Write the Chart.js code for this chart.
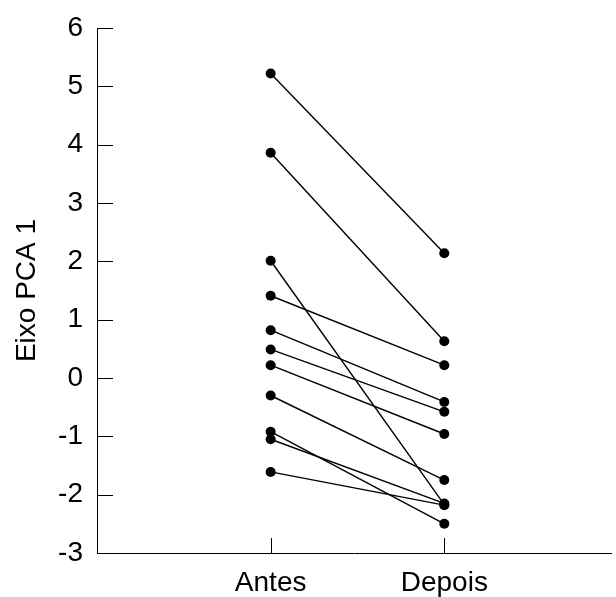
<!DOCTYPE html>
<html>
<head>
<meta charset="utf-8">
<script src="https://cdn.jsdelivr.net/npm/chart.js@4.4.1/dist/chart.umd.min.js"></script>
<style>
  html, body { margin: 0; padding: 0; background: #fff; overflow: hidden; }
  canvas { display: block; }
</style>
</head>
<body>
<canvas id="pca-chart" width="616" height="597"></canvas>
<script>
// valores (Eixo PCA 1)
const categorias = ['Antes', 'Depois'];
const antes  = [5.22, 3.86, 2.01, 1.41, 0.82, 0.49, 0.22, -0.30, -0.92, -1.05, -1.61];
const depois = [2.14, 0.63, -2.17, 0.22, -0.41, -0.58, -0.96, -1.75, -2.50, -2.15, -2.18];
const yTicks = [-3, -2, -1, 0, 1, 2, 3, 4, 5, 6];

const datasets = antes.map((a, i) => ({
    data: [{ x: 1, y: a }, { x: 2, y: depois[i] }],
    borderColor: '#000',
    backgroundColor: '#000',
    borderWidth: 1.4,
    pointRadius: 5,
    pointHoverRadius: 5,
    pointBorderWidth: 0
}));

// marcas de escala para dentro da área
const inwardTicks = {
    id: 'inwardTicks',
    afterDraw(chart) {
        const { ctx, chartArea, scales } = chart;
        ctx.save();
        ctx.strokeStyle = '#000';
        ctx.lineWidth = 1;
        ctx.beginPath();
        scales.y.ticks.forEach(t => {
            const py = Math.round(scales.y.getPixelForValue(t.value)) + 0.5;
            ctx.moveTo(chartArea.left, py);
            ctx.lineTo(chartArea.left + 16, py);
        });
        scales.x.ticks.forEach(t => {
            const px = Math.round(scales.x.getPixelForValue(t.value)) + 0.5;
            ctx.moveTo(px, chartArea.bottom);
            ctx.lineTo(px, chartArea.bottom - 15);
        });
        ctx.stroke();
        ctx.restore();
    }
};

const fonte = { family: 'Liberation Sans, Arial', size: 28 };

const ctx = document.getElementById('pca-chart');
new Chart(ctx, {
    type: 'line',
    data: { datasets: datasets },
    options: {
        responsive: false,
        animation: false,
        events: [],
        layout: { padding: { top: 28, right: 0, left: 0, bottom: 0 } },
        plugins: {
            legend: { display: false },
            tooltip: { enabled: false }
        },
        scales: {
            x: {
                type: 'linear',
                min: 0,
                max: 2.96,
                afterBuildTicks: s => { s.ticks = [{ value: 1 }, { value: 2 }]; },
                afterFit: s => { s.height = 44; },
                grid: { display: false },
                border: { display: true, color: '#000', width: 1 },
                ticks: {
                    color: '#000',
                    padding: 5,
                    maxRotation: 0,
                    font: fonte,
                    callback: v => categorias[v - 1]
                }
            },
            y: {
                min: -3,
                max: 6,
                afterBuildTicks: s => { s.ticks = yTicks.map(v => ({ value: v })); },
                afterFit: s => { s.width = 97; },
                grid: { display: false },
                border: { display: true, color: '#000', width: 1 },
                title: {
                    display: true,
                    text: 'Eixo PCA 1',
                    color: '#000',
                    padding: { top: 10, bottom: 0 },
                    font: { family: 'Liberation Sans, Arial', size: 28 }
                },
                ticks: {
                    color: '#000',
                    padding: 6,
                    font: fonte
                }
            }
        }
    },
    plugins: [inwardTicks]
});
</script>
</body>
</html>
